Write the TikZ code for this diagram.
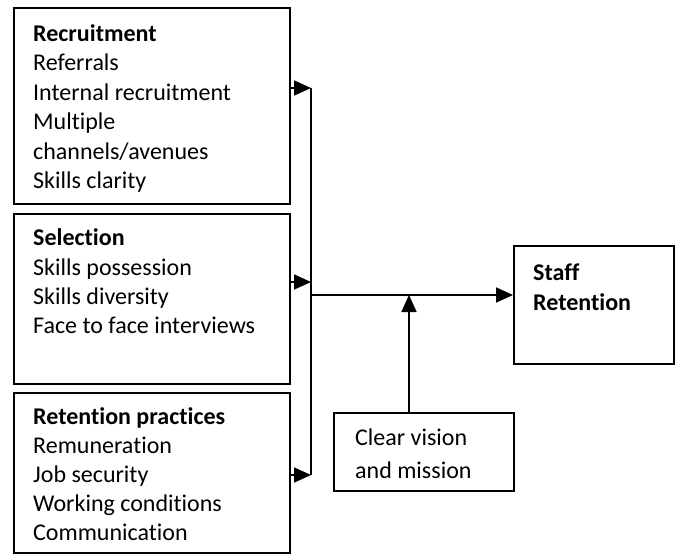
\documentclass[tikz,border=0pt]{standalone}
\usepackage{fontspec}
\setmainfont{Carlito}[Ligatures=NoCommon]
\usetikzlibrary{arrows.meta}
\tikzset{
  box/.style={draw, line width=1.6pt, anchor=north west, inner sep=0pt},
  txt/.style={anchor=north west, inner sep=0pt, align=left, font=\fontsize{24}{29.5}\selectfont},
  arr/.style={line width=1.8pt, -{Triangle[length=17pt,width=15pt]}},
  ln/.style={line width=1.8pt}
}
\begin{document}
\begin{tikzpicture}[x=1pt,y=-1pt]
\useasboundingbox (0,0) rectangle (675,554);
% boxes
\node[box, minimum width=276pt, minimum height=196pt] (rec) at (13,7) {};
\node[box, minimum width=276pt, minimum height=170pt] (sel) at (13,213) {};
\node[box, minimum width=276pt, minimum height=160pt] (ret) at (13,392) {};
\node[box, minimum width=180pt, minimum height=78pt] (cv) at (333,412) {};
\node[box, minimum width=160pt, minimum height=118pt] (staff) at (513,245) {};
% texts
\node[txt] (trec) at (33,20.35) {\strut\textbf{Recruitment}\\Referrals\\Internal recruitment\\Multiple\\channels/avenues\\Skills clarity};
\node[txt] (tsel) at (33,225.1) {\strut\textbf{Selection}\\[-0.3pt]Skills possession\\[-0.3pt]Skills diversity\\[-0.3pt]Face to face interviews};
\node[txt] (tret) at (33,403.4) {\strut\textbf{Retention practices}\\[-0.3pt]Remuneration\\[-0.3pt]Job security\\[-0.3pt]Working conditions\\[-0.8pt]Communication};
\node[txt] (tstaff) at (533,259.4) {\strut\textbf{Staff}\\[0.5pt]\textbf{Retention}};
\node[txt] (tcv) at (355,424.4) {\strut Clear vision\\[3.5pt]and mission};
% junctions
\coordinate (j1) at (311,88);
\coordinate (j2) at (311,282);
\coordinate (j3) at (311,475);
\coordinate (jm) at (311,295);
\coordinate (jv) at (409,295);
% connectors
\draw[ln] (j1) -- (j3);
\draw[arr] (rec.east |- j1) -- (j1);
\draw[arr] (sel.east |- j2) -- (j2);
\draw[arr] (ret.east |- j3) -- (j3);
\draw[arr] (jm) -- (staff.west |- jm);
\draw[arr] (cv.north -| jv) -- (jv);
\end{tikzpicture}
\end{document}
